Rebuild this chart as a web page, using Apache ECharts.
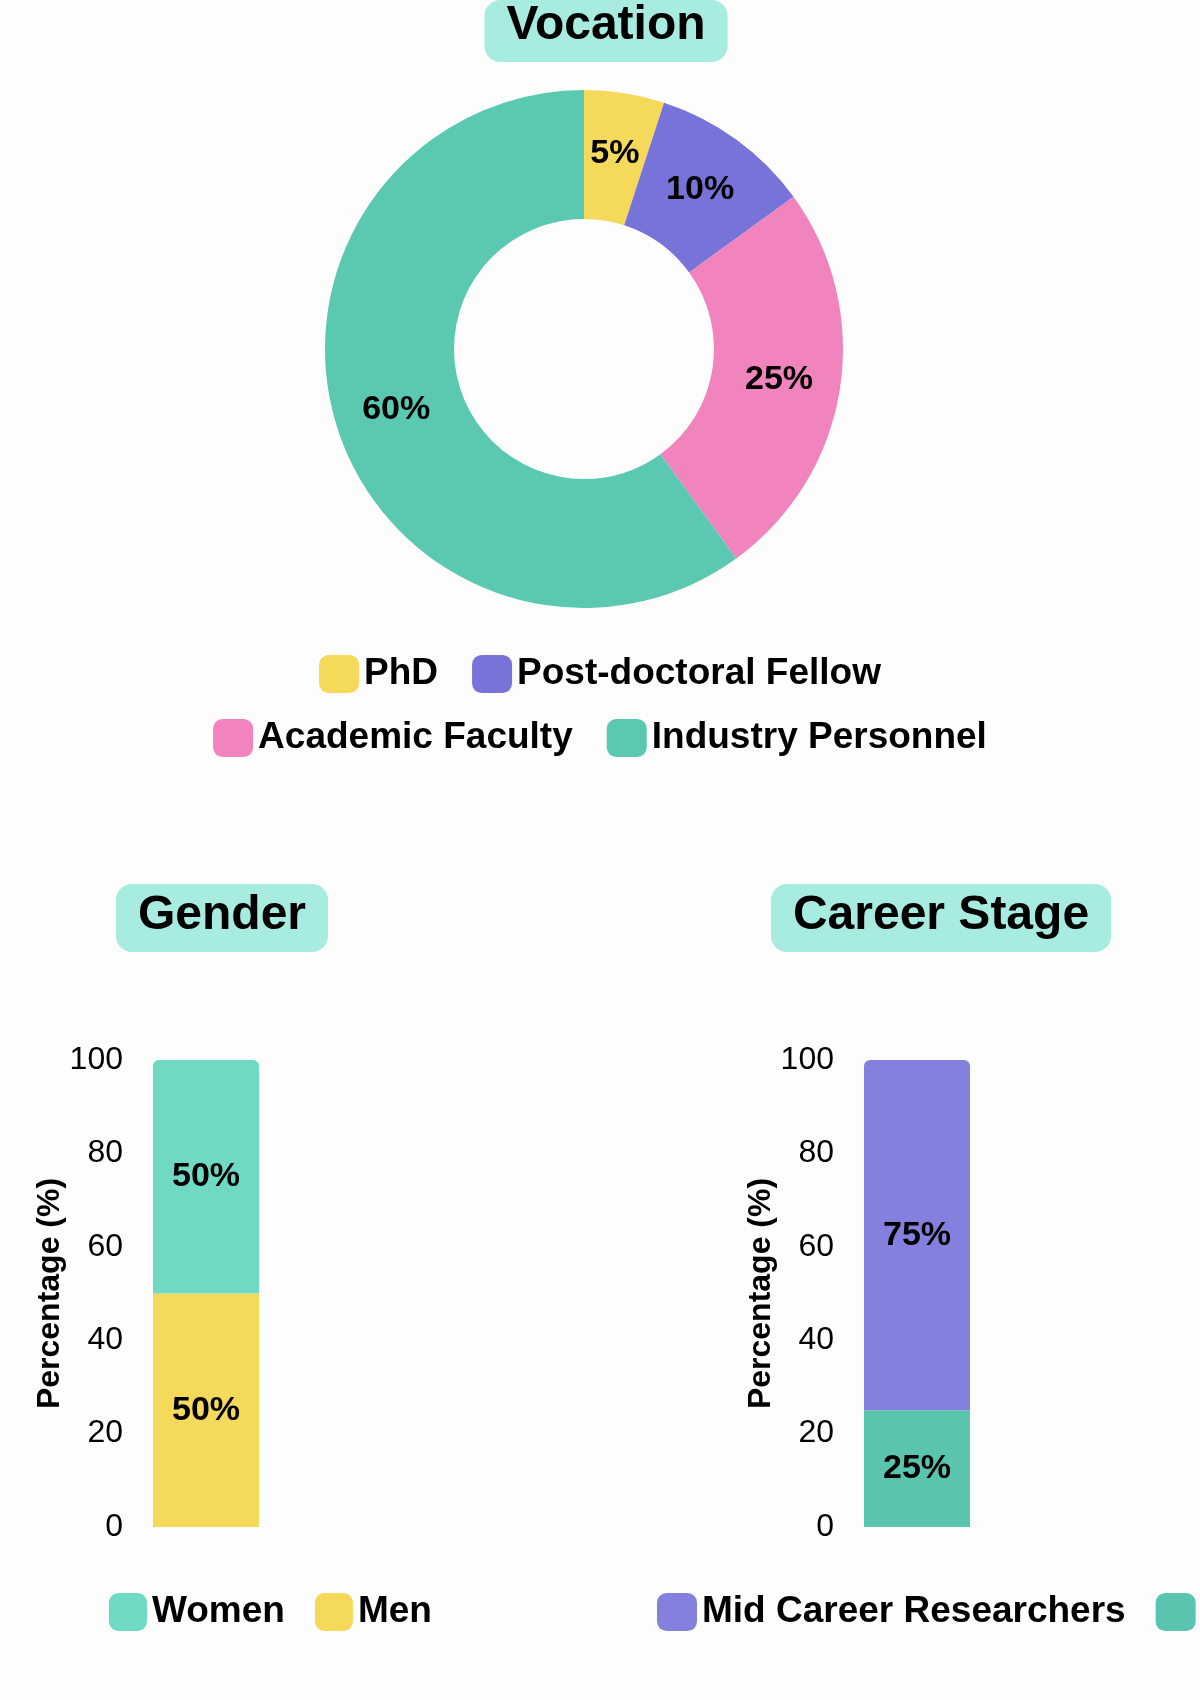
<!DOCTYPE html>
<html><head><meta charset="utf-8">
<script src="https://cdn.jsdelivr.net/npm/echarts@6/dist/echarts.min.js"></script>
<style>html,body{margin:0;background:#fdfdfd}#c{width:1200px;height:1700px}</style>
</head><body><div id="c"></div>
<script>
const vocationCats = ['PhD','Post-doctoral Fellow','Academic Faculty','Industry Personnel'];
const vocationVals = [5,10,25,60];
const vocationColors = ['#f5d95a','#7873d9','#f184bc','#5bc8b2'];
const genderCats = ['Men','Women'];
const genderVals = [50,50];
const careerCats = ['Early Career Researchers','Mid Career Researchers'];
const careerVals = [25,75];
const yTicks = [0,20,40,60,80,100];

const F = 'Liberation Sans, Arial, sans-serif';
const titleStyle = {fontSize:48,fontWeight:'bold',color:'#000',fontFamily:F};
function mkTitle(text,left,top,w){
  return {text, left, top, textAlign:'center', backgroundColor:'#a8ebe0', borderRadius:16,
    padding:[8,(w)/2,12,(w)/2], textStyle:titleStyle};
}
const legTxt = {fontSize:37,fontWeight:'bold',color:'#000',fontFamily:F};
function barAxis(gi){
  return {gridIndex:gi,type:'value',min:0,max:100,interval:20,
    name:'Percentage (%)',nameLocation:'middle',nameGap:80,
    nameTextStyle:{fontSize:32,fontWeight:'bold',color:'#000',fontFamily:F},
    axisLine:{show:false},axisTick:{show:false},splitLine:{show:false},
    axisLabel:{fontSize:32,color:'#000',fontFamily:F,margin:30}};
}
const lbl = {show:true,position:'inside',fontSize:34,fontWeight:'bold',color:'#000',fontFamily:F,formatter:p=>p.value+'%'};
const chart = echarts.init(document.getElementById('c'));
chart.setOption({
  backgroundColor:'#fdfdfd',
  title:[
    {text:'Vocation',left:584,top:0,textAlign:'center',backgroundColor:'#a8ebe0',borderRadius:16,padding:[2,22,12,22],textStyle:titleStyle},
    {text:'Gender',left:200,top:884,textAlign:'center',backgroundColor:'#a8ebe0',borderRadius:16,padding:[8,22,12,22],textStyle:titleStyle},
    {text:'Career Stage',left:919,top:884,textAlign:'center',backgroundColor:'#a8ebe0',borderRadius:16,padding:[8,22,12,22],textStyle:titleStyle}
  ],
  legend:[
    {data:vocationCats.slice(0,2),left:'center',top:650,itemWidth:40,itemHeight:38,itemGap:34,textStyle:legTxt,selectedMode:false},
    {data:vocationCats.slice(2),left:'center',top:714,itemWidth:40,itemHeight:38,itemGap:34,textStyle:legTxt,selectedMode:false},
    {data:['Women','Men'],orient:'vertical',left:104,top:1588,itemWidth:38,itemHeight:38,itemGap:30,textStyle:legTxt,selectedMode:false},
    {data:['Mid Career Researchers','Early Career Researchers'],orient:'vertical',left:652,top:1588,itemWidth:40,itemHeight:38,itemGap:30,textStyle:legTxt,selectedMode:false}
  ],
  grid:[
    {left:153,width:106,top:1060,height:467},
    {left:864,width:106,top:1060,height:467}
  ],
  xAxis:[
    {gridIndex:0,type:'category',data:['Gender'],show:false},
    {gridIndex:1,type:'category',data:['Career'],show:false}
  ],
  yAxis:[barAxis(0),barAxis(1)],
  series:[
    {type:'pie',center:[584,349],radius:[130,259],startAngle:90,clockwise:true,
     label:{position:'inside',fontSize:34,fontWeight:'bold',color:'#000',fontFamily:F,formatter:p=>p.value+'%'},
     labelLine:{show:false},itemStyle:{borderColor:'#fff',borderWidth:0},emphasis:{disabled:true},
     data:vocationCats.map((n,i)=>({name:n,value:vocationVals[i],itemStyle:{color:vocationColors[i]}}))},
    {type:'bar',name:'Men',stack:'g',xAxisIndex:0,yAxisIndex:0,barWidth:106,data:[genderVals[0]],itemStyle:{color:'#f5d95a'},label:lbl},
    {type:'bar',name:'Women',stack:'g',xAxisIndex:0,yAxisIndex:0,barWidth:106,data:[genderVals[1]],itemStyle:{color:'#6fd9c4',borderRadius:[6,6,0,0]},label:lbl},
    {type:'bar',name:'Early Career Researchers',stack:'c',xAxisIndex:1,yAxisIndex:1,barWidth:106,data:[careerVals[0]],itemStyle:{color:'#5bc4ae'},label:lbl},
    {type:'bar',name:'Mid Career Researchers',stack:'c',xAxisIndex:1,yAxisIndex:1,barWidth:106,data:[careerVals[1]],itemStyle:{color:'#8480dd',borderRadius:[6,6,0,0]},label:lbl}
  ]
});
</script></body></html>
